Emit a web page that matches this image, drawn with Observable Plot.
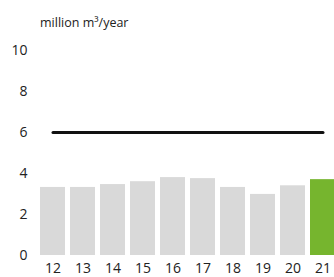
<!DOCTYPE html>
<html><head><meta charset="utf-8">
<script src="https://cdn.jsdelivr.net/npm/d3@7"></script>
<script src="https://cdn.jsdelivr.net/npm/@observablehq/plot@0.6"></script>
<style>
html,body{margin:0;padding:0;background:#fff;}
#wrap{position:relative;width:334px;height:277px;overflow:hidden;font-family:"Open Sans",sans-serif;}
#title{position:absolute;left:40px;top:14px;font-size:12.5px;color:#222;}
#chart{position:absolute;left:0;top:0;}
</style></head>
<body><div id="wrap"><div id="chart"></div><div id="title">million m³/year</div></div>
<script>
const years = ["12","13","14","15","16","17","18","19","20","21"];
const values = [3.32, 3.32, 3.46, 3.6, 3.8, 3.75, 3.32, 2.98, 3.4, 3.7];
const target = [6, 6, 6, 6, 6, 6, 6, 6, 6, 6];
const yTicks = [0, 2, 4, 6, 8, 10];
const rows = years.map((y, i) => ({year: y, value: values[i], target: target[i], last: i === years.length - 1}));
const chart = Plot.plot({
  width: 334, height: 277,
  marginTop: 50, marginBottom: 22, marginLeft: 35, marginRight: 0,
  style: {fontFamily: "'Open Sans', sans-serif", fontSize: "14px", color: "#222", background: "#fff", overflow: "hidden"},
  x: {domain: years, range: [35.3, 339.3], paddingInner: 0.18, paddingOuter: 0.09, label: null, tickSize: 0, tickPadding: 8},
  y: {domain: [0, 10], ticks: yTicks, label: null, tickSize: 0, tickPadding: 8},
  marks: [
    Plot.barY(rows, {x: "year", y: "value", fill: d => d.last ? "#76b52e" : "#d9d9d9"}),
    Plot.line(rows, {x: "year", y: "target", stroke: "#111", strokeWidth: 3})
  ]
});
document.getElementById("chart").appendChild(chart);
</script></body></html>
